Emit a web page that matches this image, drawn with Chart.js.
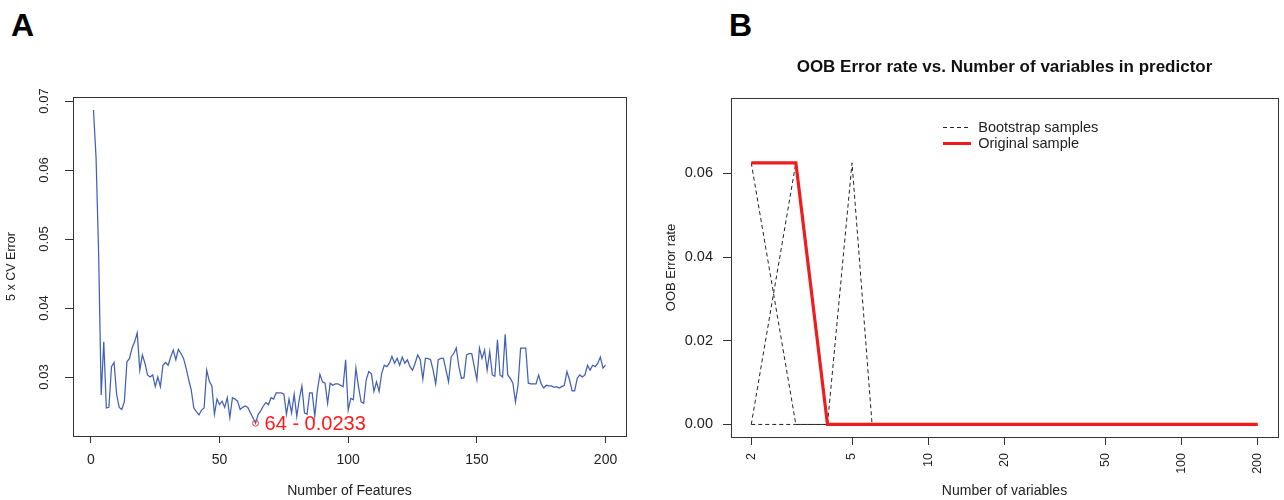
<!DOCTYPE html>
<html><head><meta charset="utf-8">
<script src="https://cdn.jsdelivr.net/npm/chart.js@4.4.1/dist/chart.umd.min.js"></script>
<style>
html,body{margin:0;padding:0;background:#fff;width:1284px;height:500px;overflow:hidden;font-family:"Liberation Sans",Arial,sans-serif;}
.tag{position:absolute;font-weight:bold;font-size:32px;line-height:1;color:#000;}
canvas{position:absolute;top:0;}
</style></head><body>
<div class="tag" style="left:11px;top:9px">A</div>
<div class="tag" style="left:729px;top:9px">B</div>
<canvas id="cA" width="642" height="500" style="left:0"></canvas>
<canvas id="cB" width="642" height="500" style="left:642px"></canvas>
<script>
// ---------- Panel A data ----------
const features = Array.from({length: 200}, (_, i) => i + 1);
const cvError = [
  0.0687,0.0618,0.0480,0.0274,0.0351,0.0255,0.0256,0.0315,0.0321,0.0275,
  0.0256,0.0253,0.0264,0.0322,0.0327,0.0342,0.0351,0.0364,0.0310,0.0332,
  0.0320,0.0303,0.0300,0.0303,0.0286,0.0300,0.0286,0.0317,0.0321,0.0317,
  0.0329,0.0339,0.0325,0.0340,0.0334,0.0327,0.0313,0.0296,0.0281,0.0255,
  0.0250,0.0245,0.0252,0.0255,0.0310,0.0294,0.0287,0.0246,0.0268,0.0260,
  0.0265,0.0256,0.0270,0.0241,0.0270,0.0268,0.0265,0.0253,0.0256,0.0258,
  0.0256,0.0248,0.0241,0.0233,0.0246,0.0251,0.0258,0.0263,0.0260,0.0270,
  0.0268,0.0277,0.0277,0.0277,0.0275,0.0246,0.0268,0.0248,0.0275,0.0243,
  0.0268,0.0287,0.0248,0.0246,0.0277,0.0277,0.0243,0.0280,0.0304,0.0293,
  0.0291,0.0262,0.0291,0.0288,0.0290,0.0290,0.0288,0.0286,0.0325,0.0252,
  0.0269,0.0267,0.0313,0.0286,0.0264,0.0262,0.0296,0.0308,0.0305,0.0279,
  0.0293,0.0279,0.0305,0.0317,0.0315,0.0320,0.0330,0.0320,0.0327,0.0317,
  0.0329,0.0320,0.0325,0.0315,0.0310,0.0320,0.0332,0.0325,0.0297,0.0327,
  0.0327,0.0325,0.0310,0.0290,0.0325,0.0327,0.0327,0.0310,0.0293,0.0329,
  0.0334,0.0342,0.0315,0.0298,0.0299,0.0332,0.0334,0.0334,0.0315,0.0296,
  0.0342,0.0327,0.0339,0.0310,0.0337,0.0303,0.0301,0.0354,0.0303,0.0300,
  0.0362,0.0303,0.0298,0.0291,0.0264,0.0288,0.0342,0.0342,0.0342,0.0291,
  0.0290,0.0290,0.0290,0.0303,0.0290,0.0284,0.0288,0.0287,0.0287,0.0285,
  0.0286,0.0284,0.0286,0.0288,0.0308,0.0296,0.0280,0.0280,0.0298,0.0303,
  0.0300,0.0303,0.0317,0.0310,0.0317,0.0315,0.0320,0.0329,0.0313,0.0317
];
const xTicksA = [0, 50, 100, 150, 200];
const yTicksA = [0.03, 0.04, 0.05, 0.06, 0.07];

// ---------- Panel B data ----------
const nVars = [2, 3, 4, 5, 6, 200];
const originalSample = [0.0625, 0.0625, 0, 0, 0, 0];
const bootstrap1 = [0.0625, 0, 0, 0, 0, 0];
const bootstrap2 = [0, 0.0625, 0, 0, 0, 0];
const bootstrap3 = [0, 0, 0, 0.0625, 0, 0];
const xTicksB = [2, 5, 10, 20, 50, 100, 200];
const yTicksB = [0, 0.02, 0.04, 0.06];

Chart.defaults.font.family = '"Liberation Sans", Arial, sans-serif';
Chart.defaults.color = '#222';

const AX = '#333';
const framePlugin = {
  id: 'frame',
  afterDraw(chart) {
    const {ctx, chartArea: a} = chart;
    ctx.save();
    ctx.strokeStyle = AX; ctx.lineWidth = 1;
    ctx.strokeRect(Math.round(a.left) + 0.5, Math.round(a.top) + 0.5,
                   Math.round(a.right - a.left), Math.round(a.bottom - a.top));
    ctx.restore();
  }
};

// min point
let minIdx = 0;
cvError.forEach((v, i) => { if (v < cvError[minIdx]) minIdx = i; });
const minFeature = features[minIdx], minError = cvError[minIdx];

const minLabelPlugin = {
  id: 'minLabel',
  afterDatasetsDraw(chart) {
    const {ctx} = chart;
    const px = chart.scales.x.getPixelForValue(minFeature);
    const py = chart.scales.y.getPixelForValue(minError);
    ctx.save();
    ctx.fillStyle = '#ff1a1a';
    ctx.font = '20px "Liberation Sans", Arial, sans-serif';
    ctx.textAlign = 'left'; ctx.textBaseline = 'middle';
    ctx.fillText(minFeature + ' - ' + minError, px + 9, py + 1);
    ctx.restore();
  }
};

const setTicks = (arr) => (scale) => { scale.ticks = arr.map(v => ({value: v})); };

new Chart(document.getElementById('cA'), {
  type: 'line',
  data: {
    labels: features,
    datasets: [
      {data: cvError, borderColor: '#4161b6', borderWidth: 1.25, pointRadius: 0, tension: 0, order: 1},
      {data: [{x: minFeature, y: minError}], showLine: false, pointRadius: 3, pointBorderWidth: 1,
       pointBorderColor: '#ff3030', pointBackgroundColor: 'rgba(0,0,0,0)', order: 0}
    ]
  },
  options: {
    responsive: false, animation: false,
    layout: {padding: {top: 97, right: 16, bottom: 0, left: 0}},
    plugins: {legend: {display: false}, tooltip: {enabled: false}},
    scales: {
      x: {
        type: 'linear', min: -6.96, max: 207.96,
        afterBuildTicks: setTicks(xTicksA),
        afterFit: (s) => { s.height = 64; },
        grid: {drawOnChartArea: false, drawTicks: true, tickLength: 7, color: AX},
        border: {display: false},
        ticks: {font: {size: 14}, color: '#222', padding: 9, autoSkip: false, maxRotation: 0,
                callback: (v) => String(v)},
        title: {display: true, text: 'Number of Features', font: {size: 14}, color: '#222', padding: {top: 0, bottom: 0}}
      },
      y: {
        min: 0.02145, max: 0.07058,
        afterBuildTicks: setTicks(yTicksA),
        afterFit: (s) => { s.width = 73; },
        grid: {drawOnChartArea: false, drawTicks: true, tickLength: 8, color: AX},
        border: {display: false},
        ticks: {font: {size: 13}, color: '#222', padding: 8, autoSkip: false,
                minRotation: 90, maxRotation: 90, crossAlign: 'center',
                callback: (v) => v.toFixed(2)},
        title: {display: true, text: '5 x CV Error', font: {size: 12.5}, color: '#222', padding: {top: 4, bottom: 0}}
      }
    }
  },
  plugins: [framePlugin, minLabelPlugin]
});

const pts = (ys) => nVars.map((x, i) => ({x: x, y: ys[i]}));
const dash = (ys) => ({label: 'Bootstrap samples', data: pts(ys), borderColor: '#222', borderWidth: 1,
                       borderDash: [4, 3], pointRadius: 0, tension: 0, order: 1});

const legendPos = {
  id: 'legendPos',
  afterLayout(chart) {
    const lg = chart.legend; if (!lg) return;
    const w = lg.width, h = lg.height;
    lg.left = 299.5; lg.top = 118.75; lg.right = lg.left + w; lg.bottom = lg.top + h;
  }
};

new Chart(document.getElementById('cB'), {
  type: 'line',
  data: {
    datasets: [
      dash(bootstrap1), dash(bootstrap2), dash(bootstrap3),
      {label: 'Original sample', data: pts(originalSample), borderColor: '#ee1c1c', borderWidth: 3.2,
       pointRadius: 0, tension: 0, order: 0}
    ]
  },
  options: {
    responsive: false, animation: false,
    layout: {padding: {top: 0, right: 6, bottom: 0, left: 0}},
    plugins: {
      tooltip: {enabled: false},
      title: {display: true, text: 'OOB Error rate vs. Number of variables in predictor', fullSize: false,
              font: {size: 17, weight: 'bold'}, color: '#111', padding: {top: 56.8, bottom: 20.8}},
      legend: {
        position: 'chartArea', align: 'start',
        labels: {usePointStyle: true, pointStyle: 'line', pointStyleWidth: 28, font: {size: 14.5}, color: '#222',
                 padding: 1.5,
                 generateLabels: (chart) => Chart.defaults.plugins.legend.labels.generateLabels(chart).map((it) => {
                   const ds = chart.data.datasets[it.datasetIndex];
                   it.lineDash = ds.borderDash || [];
                   it.lineWidth = ds.borderWidth;
                   it.strokeStyle = ds.borderColor;
                   return it;
                 }),
                 filter: (it) => it.datasetIndex === 0 || it.datasetIndex === 3,
                 sort: (a, b) => a.datasetIndex - b.datasetIndex}
      }
    },
    scales: {
      x: {
        type: 'logarithmic', min: 1.6636, max: 240.4,
        afterBuildTicks: setTicks(xTicksB),
        afterFit: (s) => { s.height = 63; },
        grid: {drawOnChartArea: false, drawTicks: true, tickLength: 8, color: AX},
        border: {display: false},
        ticks: {font: {size: 12.5}, color: '#222', padding: 8, autoSkip: false, minRotation: 90, maxRotation: 90,
                callback: (v) => String(v)},
        title: {display: true, text: 'Number of variables', font: {size: 14}, color: '#222', padding: {top: 0, bottom: 0}}
      },
      y: {
        min: -0.003, max: 0.078,
        afterBuildTicks: setTicks(yTicksB),
        afterFit: (s) => { s.width = 89; },
        grid: {drawOnChartArea: false, drawTicks: true, tickLength: 8, color: AX},
        border: {display: false},
        ticks: {font: {size: 14.5}, color: '#222', padding: 10, autoSkip: false,
                callback: (v) => v.toFixed(2)},
        title: {display: true, text: 'OOB Error rate', font: {size: 13}, color: '#222', padding: {top: 22, bottom: 0}}
      }
    }
  },
  plugins: [framePlugin, legendPos]
});
</script>
</body></html>
